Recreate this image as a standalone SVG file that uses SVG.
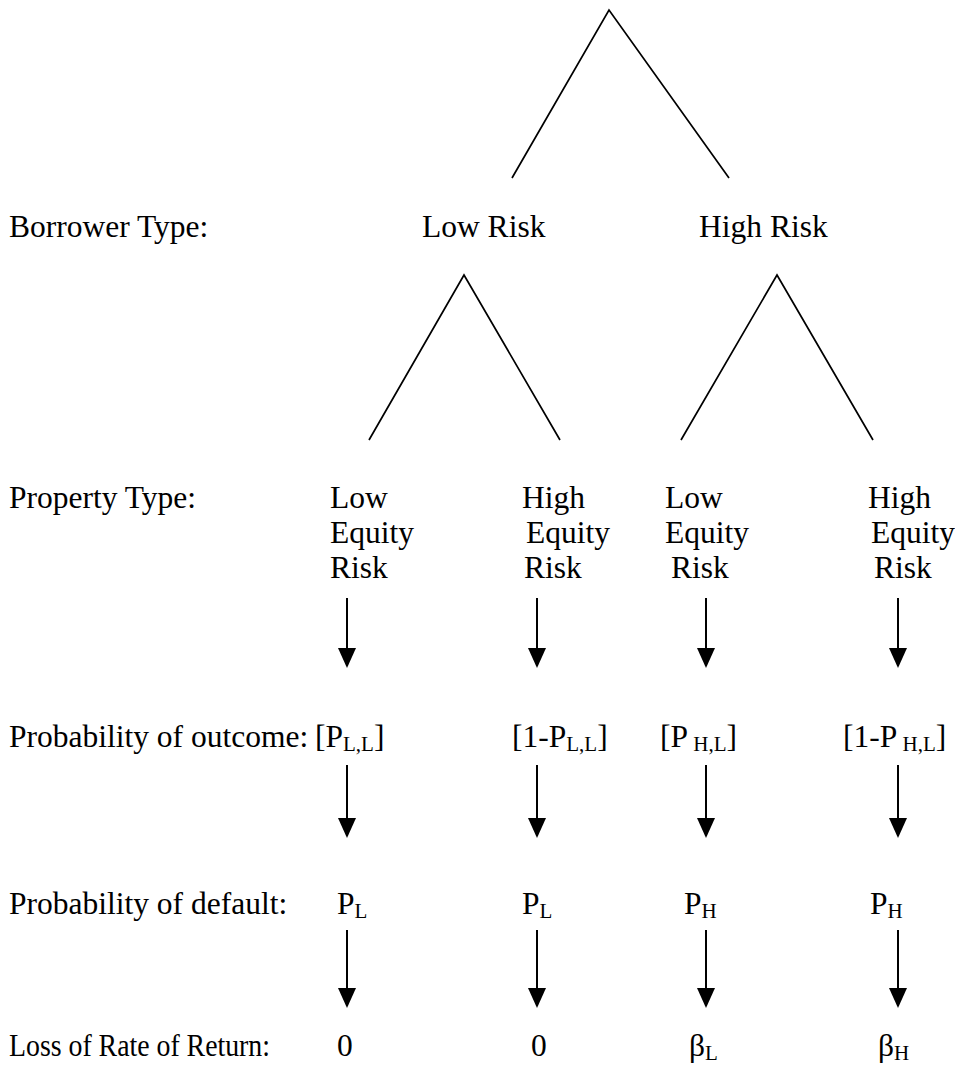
<svg xmlns="http://www.w3.org/2000/svg" width="955" height="1070" viewBox="0 0 955 1070">
<style>
text{font-family:"Liberation Serif","Times New Roman",serif;font-size:31.5px;fill:#000}
.sub{font-size:21px}
.tree{stroke:#000;stroke-width:1.7;fill:none}
.arr{stroke:#000;stroke-width:2;fill:none;marker-end:url(#ah)}
</style>
<defs>
<marker id="ah" viewBox="0 0 20 20" refX="18" refY="10" markerWidth="20" markerHeight="20" markerUnits="userSpaceOnUse" orient="auto">
<path d="M0,1 L20,10 L0,19 Z" fill="#000"/>
</marker>
</defs>
<g id="connectors">
<polyline class="tree" points="512,178 609,10 729,178"/>
<polyline class="tree" points="369,440 464,275 560,440"/>
<polyline class="tree" points="681,440 777,275 873,440"/>
<line class="arr" x1="347" y1="598" x2="347" y2="666"/>
<line class="arr" x1="537" y1="598" x2="537" y2="666"/>
<line class="arr" x1="706" y1="598" x2="706" y2="666"/>
<line class="arr" x1="898" y1="598" x2="898" y2="666"/>
<line class="arr" x1="347" y1="765" x2="347" y2="836"/>
<line class="arr" x1="537" y1="765" x2="537" y2="836"/>
<line class="arr" x1="706" y1="765" x2="706" y2="836"/>
<line class="arr" x1="898" y1="765" x2="898" y2="836"/>
<line class="arr" x1="347" y1="930" x2="347" y2="1006"/>
<line class="arr" x1="537" y1="930" x2="537" y2="1006"/>
<line class="arr" x1="706" y1="930" x2="706" y2="1006"/>
<line class="arr" x1="898" y1="930" x2="898" y2="1006"/>
</g>
<g id="row-labels">
<text x="9" y="237">Borrower Type:</text>
<text x="9" y="508">Property Type:</text>
<text x="9" y="747">Probability of outcome:</text>
<text x="9" y="914">Probability of default:</text>
<text x="9" y="1056" textLength="261" lengthAdjust="spacingAndGlyphs">Loss of Rate of Return:</text>
</g>
<g id="borrower-low"><text x="422" y="237">Low Risk</text></g>
<g id="borrower-high"><text x="699" y="237">High Risk</text></g>
<g id="prop-1"><text x="330" y="508">Low</text><text x="330" y="543">Equity</text><text x="330" y="578">Risk</text></g>
<g id="prop-2"><text x="522" y="508">High</text><text x="526" y="543">Equity</text><text x="524" y="578">Risk</text></g>
<g id="prop-3"><text x="665" y="508">Low</text><text x="665" y="543">Equity</text><text x="671" y="578">Risk</text></g>
<g id="prop-4"><text x="868" y="508">High</text><text x="871" y="543">Equity</text><text x="874" y="578">Risk</text></g>
<g id="outcome-1"><text x="315" y="747">[P<tspan class="sub" dy="4">L,L</tspan><tspan dy="-4">]</tspan></text></g>
<g id="outcome-2"><text x="512" y="747">[1-P<tspan class="sub" dy="4">L,L</tspan><tspan dy="-4">]</tspan></text></g>
<g id="outcome-3"><text x="660" y="747" xml:space="preserve">[P<tspan class="sub" dy="4"> H,L</tspan><tspan dy="-4">]</tspan></text></g>
<g id="outcome-4"><text x="843" y="747" xml:space="preserve">[1-P<tspan class="sub" dy="4"> H,L</tspan><tspan dy="-4">]</tspan></text></g>
<g id="default-1"><text x="337" y="914">P<tspan class="sub" dy="4">L</tspan></text></g>
<g id="default-2"><text x="522" y="914">P<tspan class="sub" dy="4">L</tspan></text></g>
<g id="default-3"><text x="684" y="914">P<tspan class="sub" dy="4">H</tspan></text></g>
<g id="default-4"><text x="870" y="914">P<tspan class="sub" dy="4">H</tspan></text></g>
<g id="loss-1"><text x="337" y="1056">0</text></g>
<g id="loss-2"><text x="531" y="1056">0</text></g>
<g id="loss-3"><text x="689" y="1056">β<tspan class="sub" dy="4">L</tspan></text></g>
<g id="loss-4"><text x="878" y="1056">β<tspan class="sub" dy="4">H</tspan></text></g>
</svg>
